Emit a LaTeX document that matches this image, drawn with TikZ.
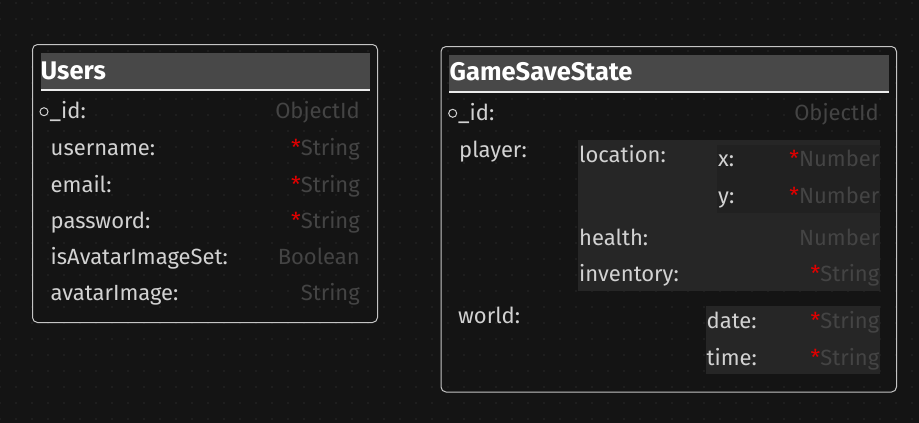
\documentclass[tikz,border=0pt]{standalone}
\usepackage{fontspec}
\setmainfont{Fira Sans}
\definecolor{bgc}{HTML}{141414}
\definecolor{dotc}{HTML}{2A2A2A}
\definecolor{framec}{HTML}{C4C4C4}
\definecolor{headc}{HTML}{484848}
\definecolor{lblc}{HTML}{D2D2D2}
\definecolor{typc}{HTML}{444444}
\definecolor{blockA}{HTML}{262626}
\definecolor{blockB}{HTML}{212121}
\definecolor{starc}{HTML}{E00000}
\tikzset{
  lbl/.style={anchor=base west, inner sep=0pt, text=lblc, font=\fontsize{22}{22}\selectfont},
  typ/.style={anchor=base east, inner sep=0pt, text=typc, font=\fontsize{22}{22}\selectfont},
  ttl/.style={anchor=base west, inner sep=0pt, text=white, font=\fontsize{25.5}{25.5}\selectfont\bfseries},
  tbox/.style={draw=framec, line width=1pt, rounded corners=5pt},
  headbar/.style={fill=headc},
  headline/.style={draw=white!92!black, line width=1.5pt},
  keydot/.style={circle, draw=lblc, fill=bgc, line width=1pt, inner sep=0pt, minimum size=8pt},
  blk/.style={fill=blockA},
  blkin/.style={fill=blockB},
}
\newcommand{\req}{{\color{starc}*}}
\begin{document}
\begin{tikzpicture}[x=1pt,y=-1pt]
\useasboundingbox (0,0) rectangle (919,423);
\fill[bgc] (0,0) rectangle (919,423);
% grid dots
\foreach \i in {0,...,57} {
  \foreach \j in {0,...,26} {
    \fill[dotc] (16*\i,3+16*\j) circle (0.8);
  }
}
% ---------- Users ----------
\draw[tbox] (32.5,44.5) rectangle (377.5,322.5);
\fill[headbar] (41,53) rectangle (370,90);
\draw[headline] (41,90) -- (370,90);
\node[ttl] (uT) at (40.5,79.3) {Users};
\node[keydot] (uK) at (44,111.7) {};
\node[lbl] (uL1) at (49.5,118.3) {\_id:};
\node[typ] (uT1) at (360,118.3) {ObjectId};
\node[lbl] (uL2) at (50.5,155.7) {username:};
\node[typ] (uT2) at (360,155.7) {\req String};
\node[lbl] (uL3) at (50.5,192.3) {email:};
\node[typ] (uT3) at (360,192.3) {\req String};
\node[lbl] (uL4) at (50.5,228.3) {password:};
\node[typ] (uT4) at (360,228.3) {\req String};
\node[lbl] (uL5) at (50.5,264.3) {isAvatarImageSet:};
\node[typ] (uT5) at (360,264.3) {Boolean};
\node[lbl] (uL6) at (50.5,300) {avatarImage:};
\node[typ] (uT6) at (360,300) {String};
% ---------- GameSaveState ----------
\draw[tbox] (441,46.5) rectangle (896.5,392);
\fill[headbar] (449,55) rectangle (889,92);
\draw[headline] (449,92) -- (889,92);
\node[ttl] (gT) at (449.5,80) {GameSaveState};
\node[keydot] (gK) at (452.7,113.3) {};
\node[lbl] (gL1) at (458,120) {\_id:};
\node[typ] (gT1) at (879,120) {ObjectId};
% player block
\fill[blk] (578,140) rectangle (879.5,290.5);
\fill[blkin] (717,145) rectangle (879.5,212.5);
\node[lbl] (gPl) at (459,157.7) {player:};
\node[lbl] (gLoc) at (579,162.3) {location:};
\node[lbl] (gX) at (718,166.7) {x:};
\node[typ] (gXt) at (879.5,166.7) {\req Number};
\node[lbl] (gY) at (718,203) {y:};
\node[typ] (gYt) at (879.5,203) {\req Number};
\node[lbl] (gH) at (579,245) {health:};
\node[typ] (gHt) at (879.5,245) {Number};
\node[lbl] (gI) at (579,281.7) {inventory:};
\node[typ] (gIt) at (879.5,281.7) {\req String};
% world block
\fill[blk] (706,306) rectangle (879.5,374);
\node[lbl] (gW) at (458,323) {world:};
\node[lbl] (gD) at (706.5,328) {date:};
\node[typ] (gDt) at (879.5,328) {\req String};
\node[lbl] (gTm) at (706.5,365) {time:};
\node[typ] (gTmt) at (879.5,365) {\req String};
\end{tikzpicture}
\end{document}
